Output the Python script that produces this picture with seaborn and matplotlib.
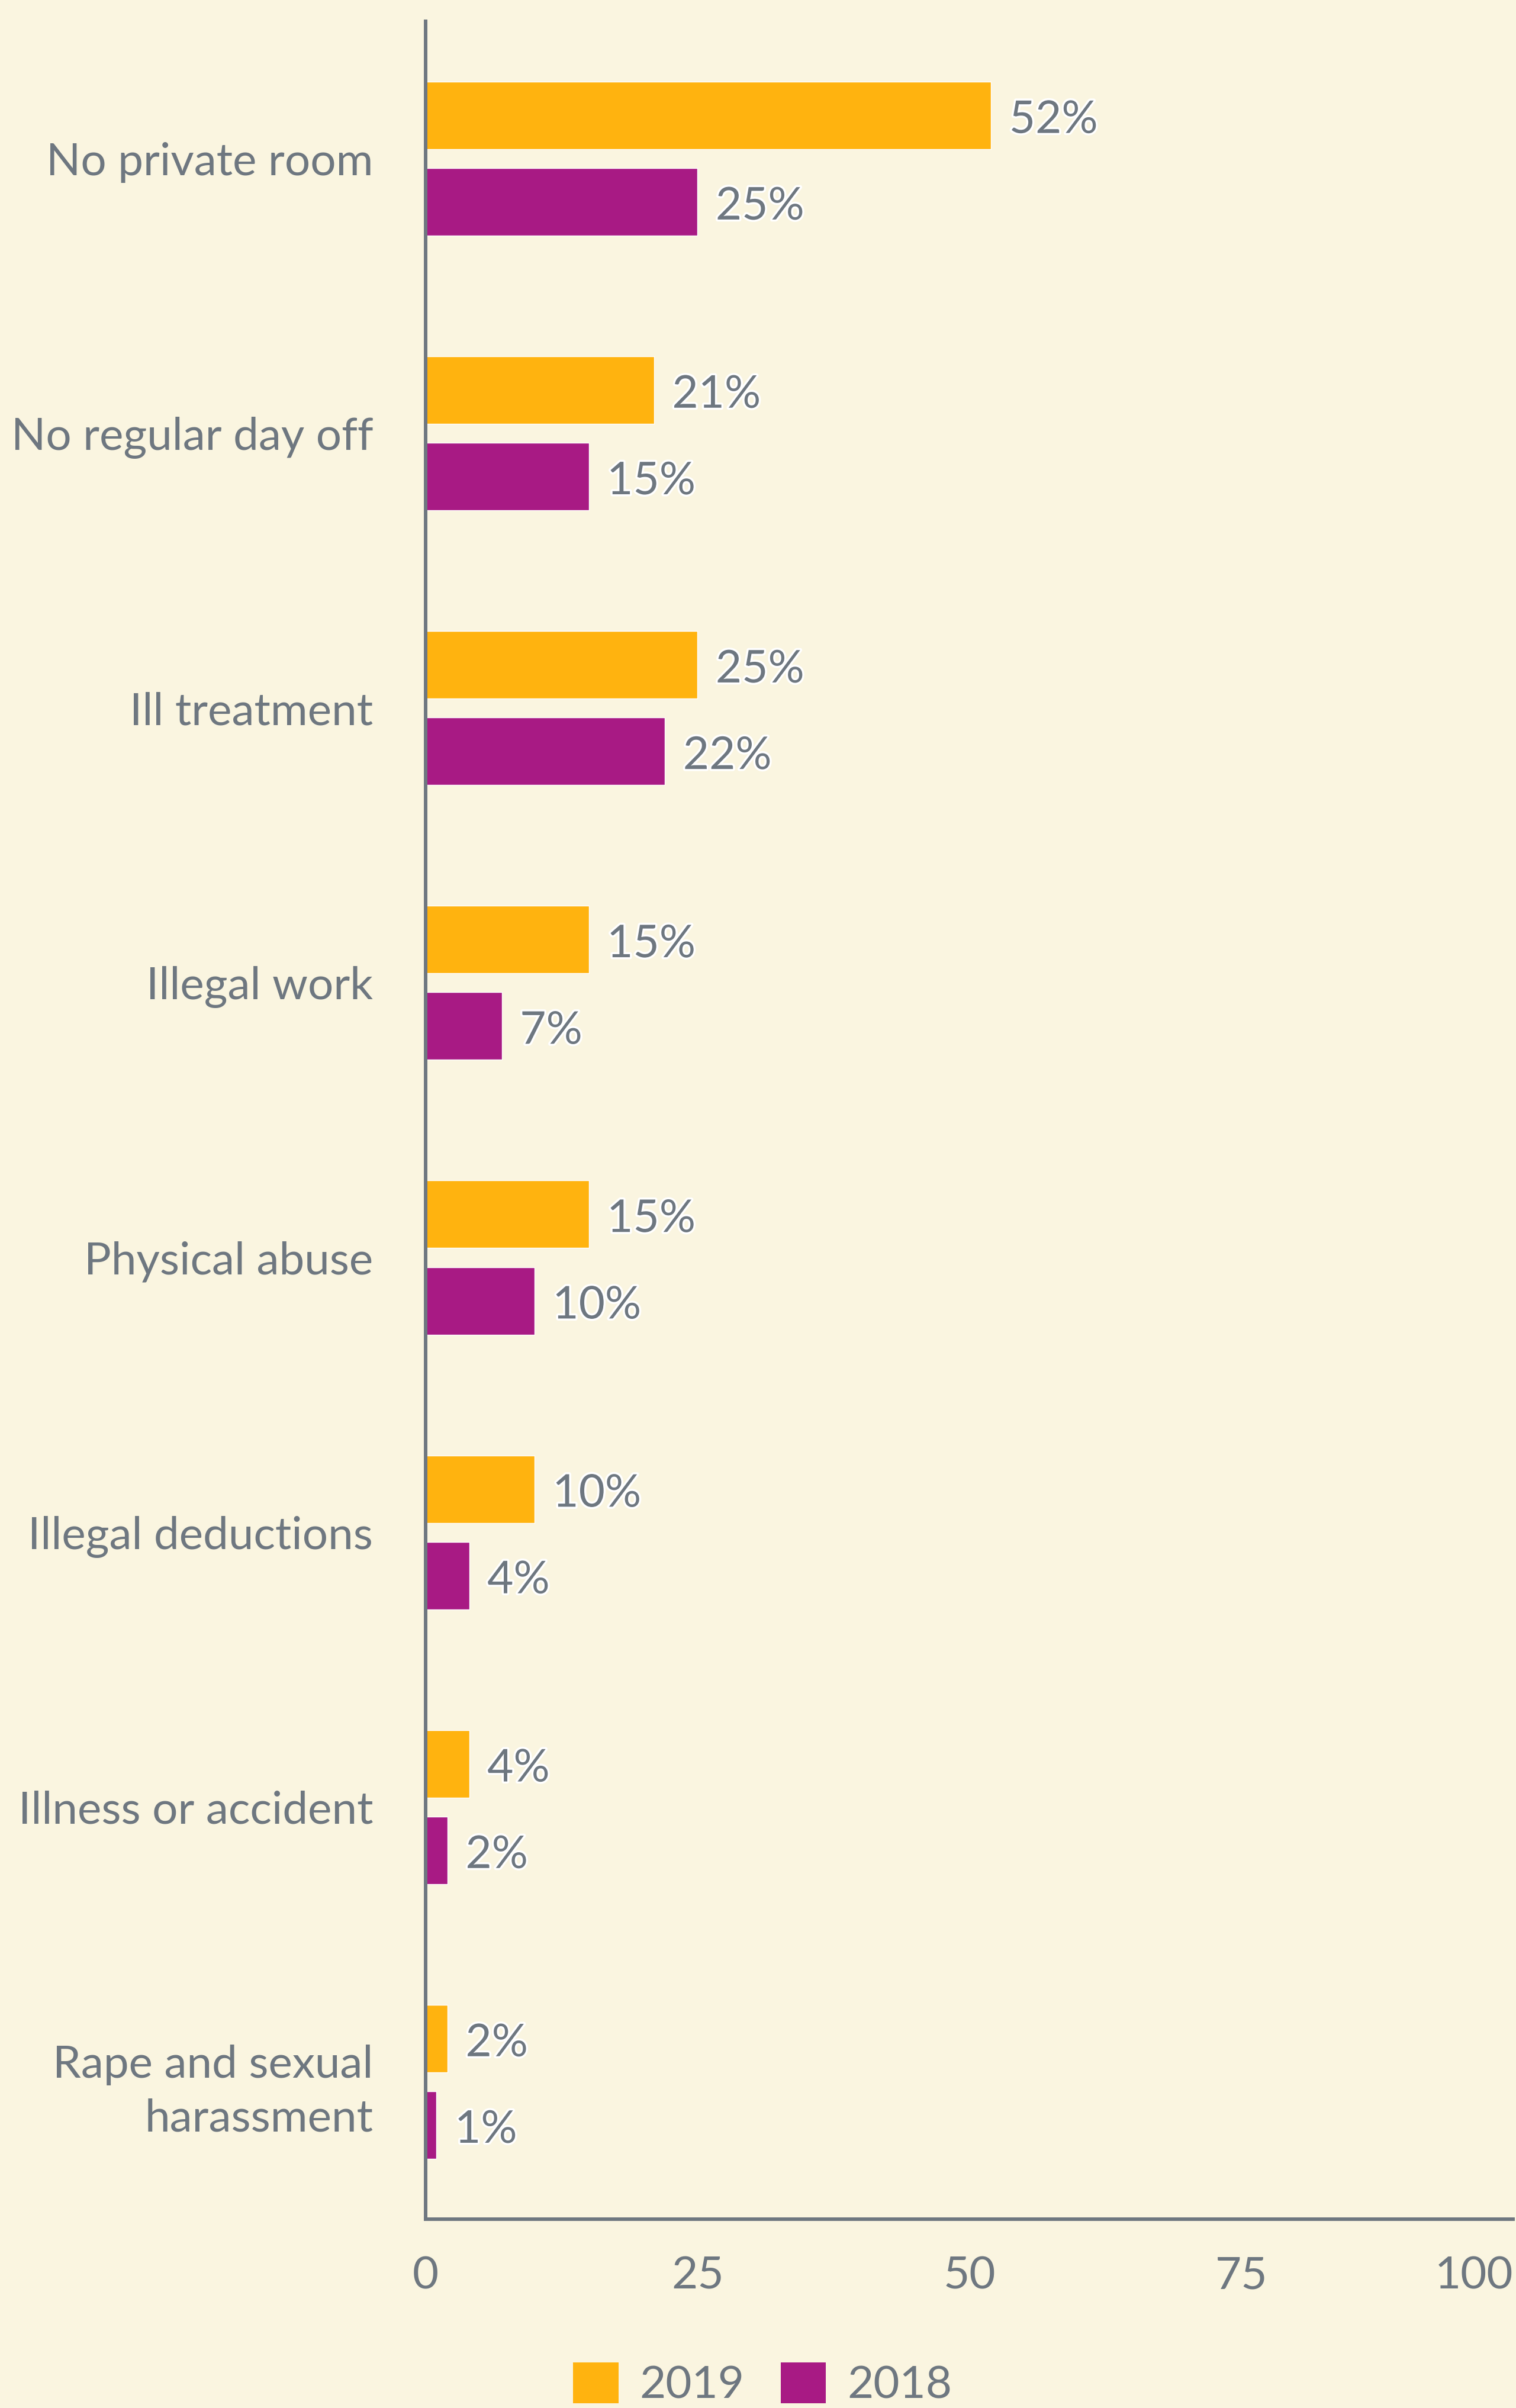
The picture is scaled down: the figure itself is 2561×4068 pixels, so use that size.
import matplotlib
matplotlib.use("Agg")
import matplotlib.pyplot as plt
import matplotlib.patheffects as pe
from matplotlib.patches import Patch
import seaborn as sns
import pandas as pd

categories = ["No private room", "No regular day off", "Ill treatment", "Illegal work",
              "Physical abuse", "Illegal deductions", "Illness or accident",
              "Rape and sexual\nharassment"]
values_2019 = [52, 21, 25, 15, 15, 10, 4, 2]
values_2018 = [25, 15, 22, 7, 10, 4, 2, 1]
series_names = ["2019", "2018"]
x_ticks = [0, 25, 50, 75, 100]

BG = "#FAF5E0"
GRAY = "#6E7780"
COLORS = ["#FFB30F", "#A81A84"]
FS = 55

df = pd.DataFrame({
    "category": categories * 2,
    "value": values_2019 + values_2018,
    "year": [series_names[0]] * len(categories) + [series_names[1]] * len(categories),
})

sns.set_theme(style="white")
plt.rcParams["font.family"] = ["Lato", "DejaVu Sans"]

fig = plt.figure(figsize=(25.61, 40.68), dpi=100, facecolor=BG)
ax = fig.add_axes([0.2808, 0.0784, 0.998 - 0.2808, 0.9912 - 0.0784])
ax.set_facecolor(BG)

sns.barplot(data=df, x="value", y="category", hue="year", hue_order=series_names,
            palette=COLORS, orient="h", width=0.63, gap=0.22, legend=False,
            saturation=1, ax=ax, order=categories)

for cont in ax.containers:
    vals = [b.get_width() for b in cont]
    anns = ax.bar_label(cont, labels=[f"{v:.0f}%" for v in vals], padding=22,
                        fontsize=FS, color=GRAY,
                        path_effects=[pe.withStroke(linewidth=5, foreground="white")])
    for a in anns:
        a.xyann = (22, -6)

ax.set_xlim(0, 100)
ax.set_ylim(len(categories) - 0.5, -0.5)
ax.set_xticks(x_ticks)
ax.set_xticklabels([str(t) for t in x_ticks])
ax.get_xticklabels()[-1].set_ha("right")
ax.set_xlabel("")
ax.set_ylabel("")
ax.tick_params(axis="both", length=0, labelsize=FS, labelcolor=GRAY)
ax.tick_params(axis="y", pad=64)
ax.tick_params(axis="x", pad=44)
for lbl in ax.get_yticklabels():
    lbl.set_multialignment("right")
    lbl.set_linespacing(1.38)

for side in ["top", "right"]:
    ax.spines[side].set_visible(False)
for side in ["left", "bottom"]:
    ax.spines[side].set_color(GRAY)
    ax.spines[side].set_linewidth(4.3)
ax.grid(False)

handles = [Patch(facecolor=c, edgecolor="none", label=n) for c, n in zip(COLORS, series_names)]
leg = fig.legend(handles=handles, loc="center", bbox_to_anchor=(0.503, 1 - 4028 / 4068),
                 ncol=2, frameon=False, fontsize=FS, handlelength=1.0, handleheight=1.0,
                 handletextpad=0.47, columnspacing=0.8, labelcolor=GRAY, borderpad=0)

fig.savefig("out.png", dpi=100, facecolor=BG)
